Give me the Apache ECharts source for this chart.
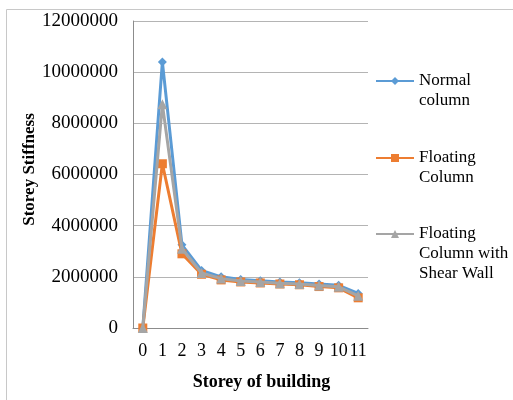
<!DOCTYPE html>
<html>
<head>
<meta charset="utf-8">
<script src="https://cdn.jsdelivr.net/npm/echarts@6/dist/echarts.min.js"></script>
<style>
html,body{margin:0;padding:0;background:#fff;}
#chart{width:513px;height:400px;}
</style>
</head>
<body>
<div id="chart"></div>
<script>
var categories = ['0','1','2','3','4','5','6','7','8','9','10','11'];
var normalColumn = [0, 10400000, 3250000, 2250000, 2000000, 1900000, 1850000, 1800000, 1770000, 1720000, 1670000, 1350000];
var floatingColumn = [0, 6420000, 2900000, 2100000, 1880000, 1800000, 1760000, 1720000, 1690000, 1620000, 1570000, 1180000];
var floatingShearWall = [0, 8750000, 3100000, 2150000, 1930000, 1840000, 1800000, 1750000, 1720000, 1660000, 1610000, 1260000];
var seriesNames = ['Normal column', 'Floating Column', 'Floating Column with Shear Wall'];
var legendLabels = ['\nNormal\ncolumn', '\nFloating\nColumn', '\n\nFloating\nColumn with\nShear Wall'];
var yMin = 0, yMax = 12000000, yInterval = 2000000;

var font = '"Liberation Serif", "Times New Roman", serif';
var chart = echarts.init(document.getElementById('chart'));

function legendFor(i, top) {
  return {
    orient: 'vertical', left: 375, top: top,
    data: [seriesNames[i]],
    itemWidth: 38, itemHeight: 10, itemGap: 0,
    padding: 0,
    textStyle: {fontFamily: font, fontSize: 17, lineHeight: 20, color: '#000'},
    formatter: function () { return legendLabels[i]; }
  };
}

chart.setOption({
  animation: false,
  backgroundColor: '#fff',
  graphic: [{
    type: 'rect', silent: true, z: -10,
    shape: {x: 6.5, y: 9.5, width: 600, height: 500},
    style: {fill: 'none', stroke: '#c8c8c8', lineWidth: 1}
  }],
  grid: {left: 133, right: 145, top: 21, bottom: 72},
  legend: [legendFor(0, 51), legendFor(1, 128), legendFor(2, 184)],
  xAxis: {
    type: 'category', data: categories, boundaryGap: true,
    axisLine: {lineStyle: {color: '#8c8c8c', width: 1}},
    axisTick: {show: false},
    axisLabel: {fontFamily: font, fontSize: 18, color: '#000', margin: 14, interval: 0},
    name: 'Storey of building', nameLocation: 'middle', nameGap: 45,
    nameTextStyle: {fontFamily: font, fontSize: 18, fontWeight: 'bold', color: '#000', padding: [0, 0, 0, 22]}
  },
  yAxis: {
    type: 'value', min: yMin, max: yMax, interval: yInterval,
    axisLine: {show: true, lineStyle: {color: '#8c8c8c', width: 1}},
    axisTick: {show: false},
    splitLine: {lineStyle: {color: '#b4b4b4', width: 1}},
    axisLabel: {fontFamily: font, fontSize: 19, color: '#000', margin: 15,
      formatter: function (v) { return String(v); }},
    name: 'Storey Stiffness', nameLocation: 'middle', nameGap: 95,
    nameTextStyle: {fontFamily: font, fontSize: 17, fontWeight: 'bold', color: '#000', padding: [0, 0, 0, 10]}
  },
  series: [
    {name: seriesNames[0], type: 'line', data: normalColumn, color: '#5B9BD5',
     symbol: 'diamond', symbolSize: 9, lineStyle: {width: 3}, itemStyle: {color: '#5B9BD5'}, z: 2},
    {name: seriesNames[1], type: 'line', data: floatingColumn, color: '#ED7D31',
     symbol: 'rect', symbolSize: 9, lineStyle: {width: 3}, itemStyle: {color: '#ED7D31'}, z: 3},
    {name: seriesNames[2], type: 'line', data: floatingShearWall, color: '#A5A5A5',
     symbol: 'triangle', symbolSize: 10, lineStyle: {width: 3}, itemStyle: {color: '#A5A5A5'}, z: 4}
  ]
});
</script>
</body>
</html>
